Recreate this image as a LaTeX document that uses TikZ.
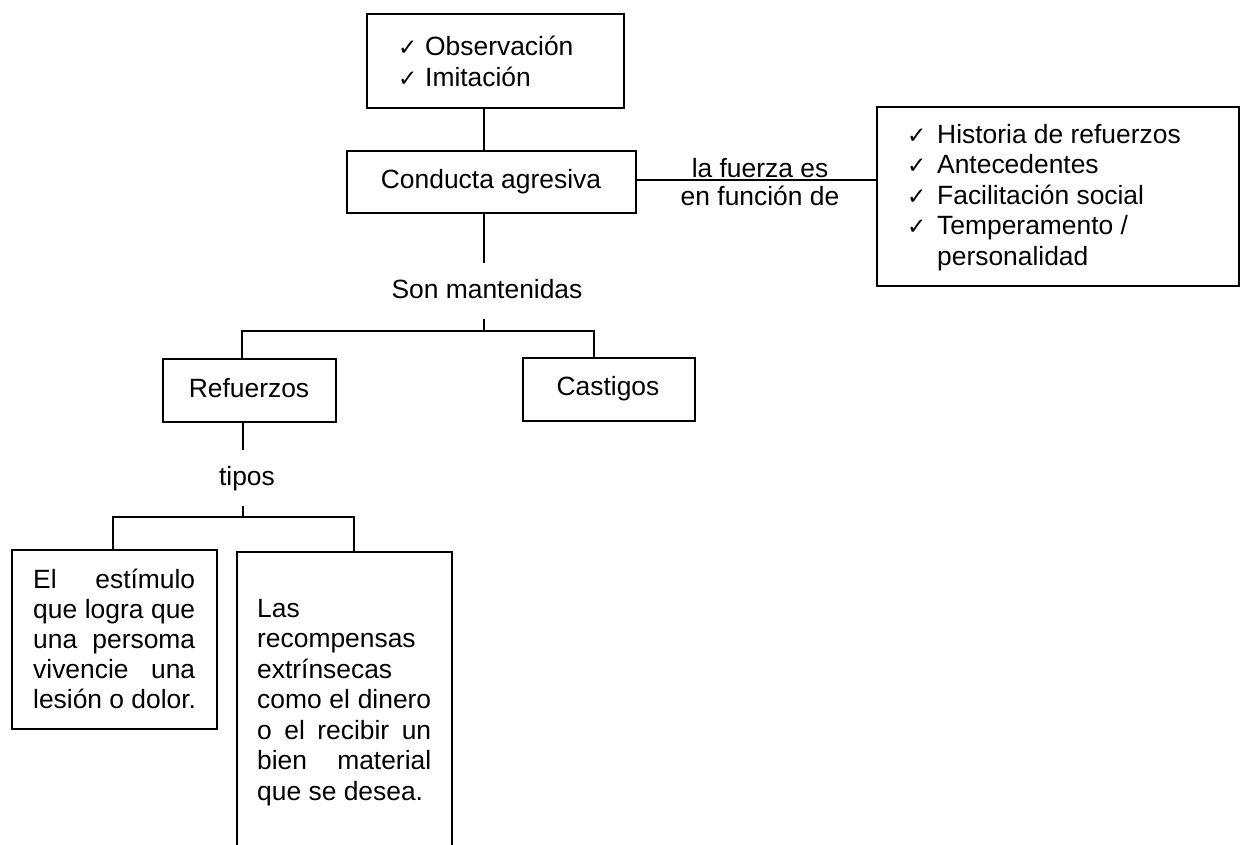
\documentclass[tikz,border=0pt]{standalone}
\usepackage{fontspec}
\setmainfont{Liberation Sans}
\newfontfamily\tickfont{DejaVu Sans}
\newcommand{\tickmark}{{\tickfont\fontsize{23}{23}\selectfont ✓}}
\begin{document}
\begin{tikzpicture}[x=1pt,y=-1pt,
  box/.style={draw,line width=2pt,inner sep=0pt},
  txt/.style={inner sep=0pt,font=\fontsize{26.4}{30.5}\selectfont},
  lab/.style={txt,text height=21pt,text depth=7pt,inner ysep=14pt,inner xsep=0pt},
  con/.style={line width=1.1pt}]
\useasboundingbox (0,0) rectangle (1242,844);
% boxes
\node[box,minimum width=257pt,minimum height=94pt] (obs) at (495.5,61) {};
\node[txt,font=\fontsize{26.4}{31}\selectfont,anchor=base west] (obst) at (398,55)
  {\begin{tabular}[t]{@{}l@{}}\makebox[27pt][l]{\tickmark}Observación\\ \makebox[27pt][l]{\tickmark}Imitación\end{tabular}};
\node[box,minimum width=289pt,minimum height=62pt] (cond) at (491.5,182) {};
\node[txt,anchor=base] (condt) at (491,188) {Conducta agresiva};
\node[box,minimum width=362pt,minimum height=179pt] (hist) at (1058,196.5) {};
\node[txt,anchor=base west] (histt) at (907,143)
  {\begin{tabular}[t]{@{}l@{}}\makebox[30pt][l]{\tickmark}Historia de refuerzos\\
   \makebox[30pt][l]{\tickmark}Antecedentes\\
   \makebox[30pt][l]{\tickmark}Facilitación social\\
   \makebox[30pt][l]{\tickmark}Temperamento /\\
   \makebox[30pt][l]{}personalidad\end{tabular}};
\node[txt,anchor=base] (f1) at (760,177) {la fuerza es};
\node[txt,anchor=base] (f2) at (760,205) {en función de};
\node[lab,anchor=base] (son) at (487,298) {Son mantenidas};
\node[box,minimum width=173pt,minimum height=63pt] (ref) at (249.5,390.5) {};
\node[txt,anchor=base] (reft) at (249,397) {Refuerzos};
\node[box,minimum width=172pt,minimum height=63pt] (cas) at (609,389.5) {};
\node[txt,anchor=base] (cast) at (608,395) {Castigos};
\node[lab,anchor=base] (tipos) at (247,485) {tipos};
\node[box,minimum width=205pt,minimum height=179pt] (est) at (114.5,639.5) {};
\node[txt,font=\fontsize{26.4}{30}\selectfont,anchor=base west] (estt) at (33,588)
  {\begin{tabular}[t]{@{}l@{}}\makebox[162pt][s]{El estímulo}\\
   \makebox[162pt][s]{que logra que}\\
   \makebox[162pt][s]{una persoma}\\
   \makebox[162pt][s]{vivencie una}\\
   lesión o dolor.\end{tabular}};
\begin{scope}
\clip (0,0) rectangle (1242,844);
\node[box,minimum width=215pt,minimum height=340pt] (rec) at (344.5,722) {};
\end{scope}
\node[txt,anchor=base west] (rect) at (257,617)
  {\begin{tabular}[t]{@{}l@{}}Las\\
   recompensas\\
   extrínsecas\\
   \makebox[174pt][s]{como el dinero}\\
   \makebox[174pt][s]{o el recibir un}\\
   \makebox[174pt][s]{bien material}\\
   que se desea.\end{tabular}};
% connectors
\coordinate (stem) at (484,0);
\coordinate (bar1) at (0,331);
\coordinate (refx) at (242,0);
\coordinate (casx) at (594,0);
\coordinate (stem2) at (243,0);
\coordinate (bar2) at (0,517);
\coordinate (estx) at (113,0);
\coordinate (recx) at (354,0);
\coordinate (hl) at (0,180);
\draw[con] (stem |- obs.south) -- (stem |- cond.north);
\draw[con] (stem |- cond.south) -- (stem |- son.north);
\draw[con] (stem |- son.south) -- (stem |- bar1);
\draw[con] (refx |- ref.north) -- (refx |- bar1) -- (casx |- bar1) -- (casx |- cas.north);
\draw[con] (stem2 |- ref.south) -- (stem2 |- tipos.north);
\draw[con] (stem2 |- tipos.south) -- (stem2 |- bar2);
\draw[con] (estx |- est.north) -- (estx |- bar2) -- (recx |- bar2) -- (recx |- rec.north);
\draw[con] (cond.east |- hl) -- (hist.west |- hl);
\end{tikzpicture}
\end{document}
